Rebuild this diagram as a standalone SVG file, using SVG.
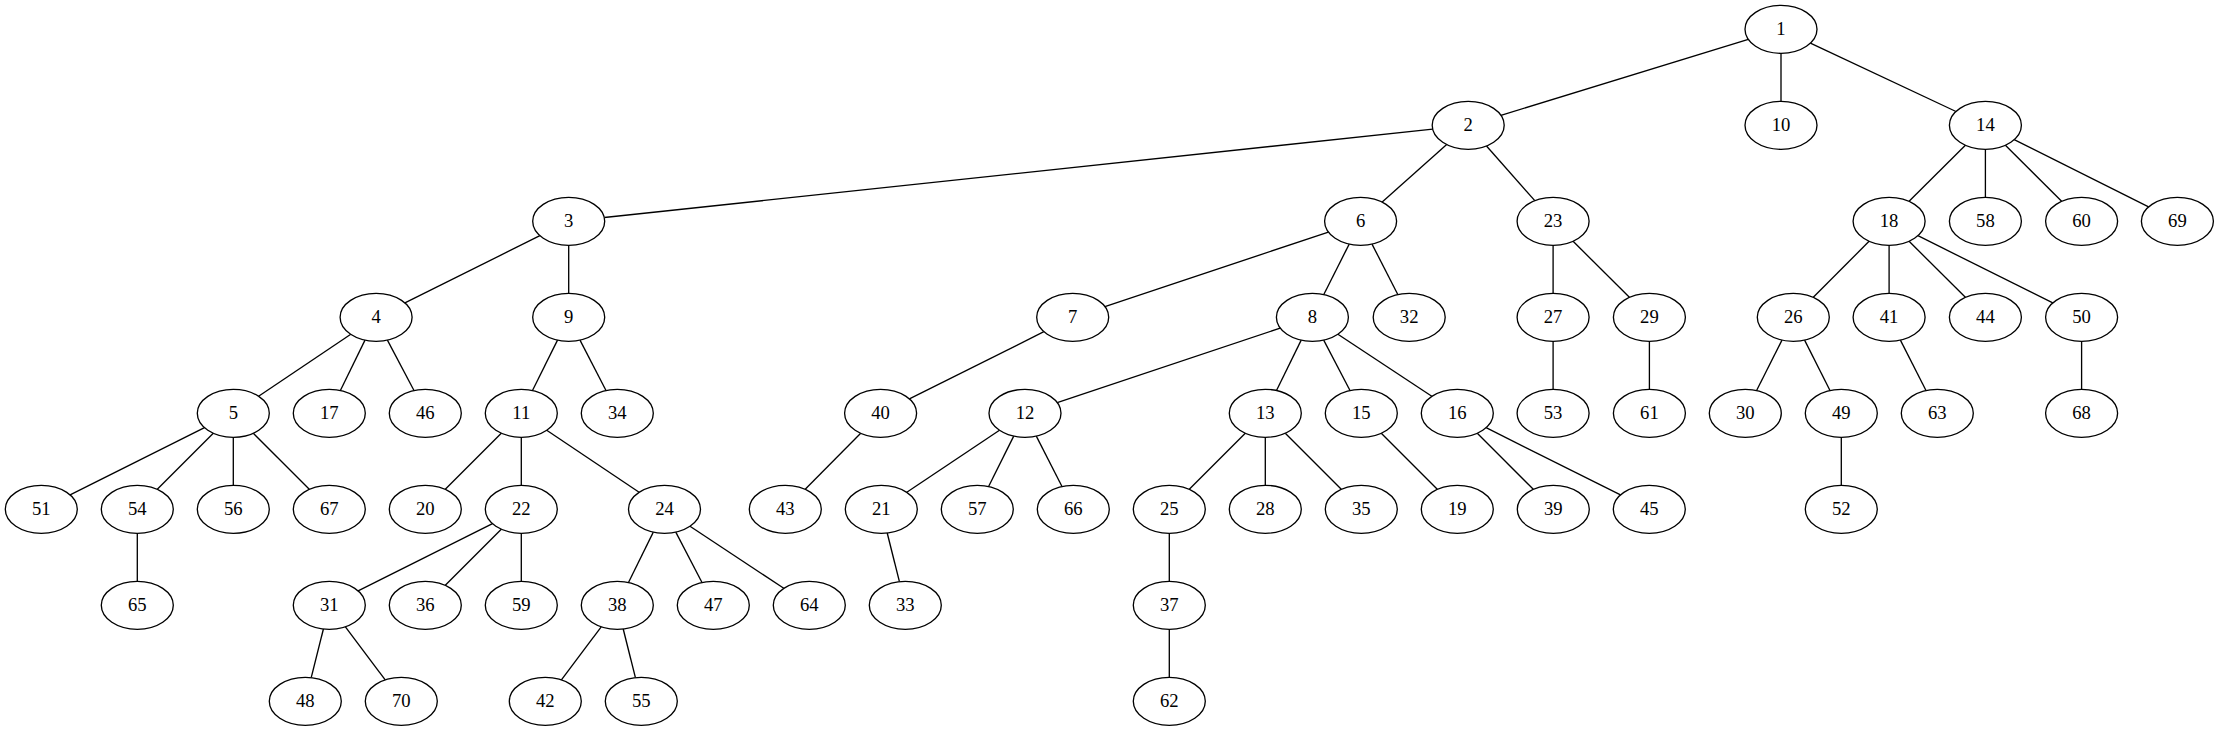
<svg xmlns="http://www.w3.org/2000/svg" width="2219" height="731" viewBox="0 0 2219 731">
<style>
.n ellipse{fill:#fff;stroke:#000;stroke-width:1.33}
.n text{font-family:"Liberation Serif","Times New Roman",serif;font-size:18.67px;text-anchor:middle;fill:#000}
.e line{stroke:#000;stroke-width:1.33;fill:none}
</style>
<rect width="2219" height="731" fill="#fff"/>
<g id="edges" class="e">
<line x1="1748.3" y1="39.3" x2="1500.9" y2="115.3"/>
<line x1="1781" y1="53.3" x2="1781" y2="101.3"/>
<line x1="1810.4" y1="43.1" x2="1956" y2="111.5"/>
<line x1="1432.7" y1="129.1" x2="604.3" y2="217.5"/>
<line x1="1446.7" y1="144.5" x2="1382.2" y2="202.1"/>
<line x1="1486.5" y1="146" x2="1534.8" y2="200.6"/>
<line x1="1965.4" y1="145.3" x2="1909.1" y2="201.3"/>
<line x1="1985.4" y1="149.3" x2="1985.4" y2="197.3"/>
<line x1="2005.4" y1="145.3" x2="2061.6" y2="201.3"/>
<line x1="2014.2" y1="139.7" x2="2148.6" y2="206.9"/>
<line x1="539.9" y1="235.7" x2="404.9" y2="302.9"/>
<line x1="568.7" y1="245.3" x2="568.7" y2="293.3"/>
<line x1="1328.4" y1="232.1" x2="1104.9" y2="306.6"/>
<line x1="1349.2" y1="244.1" x2="1323.8" y2="294.5"/>
<line x1="1372" y1="244.1" x2="1397.8" y2="294.5"/>
<line x1="1553.1" y1="245.3" x2="1553.1" y2="293.3"/>
<line x1="1573.1" y1="241.3" x2="1629.4" y2="297.3"/>
<line x1="1869.1" y1="241.3" x2="1813.3" y2="297.3"/>
<line x1="1889.1" y1="245.3" x2="1889.1" y2="293.3"/>
<line x1="1909.1" y1="241.3" x2="1965.4" y2="297.3"/>
<line x1="1917.9" y1="235.7" x2="2052.8" y2="302.9"/>
<line x1="350.8" y1="334.3" x2="258.6" y2="396.3"/>
<line x1="365" y1="340.1" x2="340.4" y2="390.5"/>
<line x1="387.4" y1="340.1" x2="414" y2="390.5"/>
<line x1="557.5" y1="340.1" x2="532.5" y2="390.5"/>
<line x1="580" y1="340.1" x2="606" y2="390.5"/>
<line x1="1043.9" y1="331.7" x2="909.4" y2="398.9"/>
<line x1="1280.2" y1="328.1" x2="1057.2" y2="402.6"/>
<line x1="1301.2" y1="340.1" x2="1276.5" y2="390.5"/>
<line x1="1323.7" y1="340.1" x2="1350" y2="390.5"/>
<line x1="1337.9" y1="334.3" x2="1431.8" y2="396.3"/>
<line x1="1553.1" y1="341.3" x2="1553.1" y2="389.3"/>
<line x1="1649.4" y1="341.3" x2="1649.4" y2="389.3"/>
<line x1="1782" y1="340.1" x2="1756.6" y2="390.5"/>
<line x1="1804.6" y1="340.1" x2="1830" y2="390.5"/>
<line x1="1900.4" y1="340.1" x2="1926" y2="390.5"/>
<line x1="2081.6" y1="341.3" x2="2081.6" y2="389.3"/>
<line x1="204.5" y1="427.7" x2="70.1" y2="494.9"/>
<line x1="213.3" y1="433.3" x2="157.3" y2="489.3"/>
<line x1="233.3" y1="437.3" x2="233.3" y2="485.3"/>
<line x1="253.3" y1="433.3" x2="309.3" y2="489.3"/>
<line x1="501.3" y1="433.3" x2="445.3" y2="489.3"/>
<line x1="521.3" y1="437.3" x2="521.3" y2="485.3"/>
<line x1="546.7" y1="430.3" x2="639.1" y2="492.3"/>
<line x1="860.7" y1="433.3" x2="805.2" y2="489.3"/>
<line x1="999.5" y1="430.3" x2="906.8" y2="492.3"/>
<line x1="1013.7" y1="436.1" x2="988.6" y2="486.5"/>
<line x1="1036.3" y1="436.1" x2="1062" y2="486.5"/>
<line x1="1245.3" y1="433.3" x2="1189.3" y2="489.3"/>
<line x1="1265.3" y1="437.3" x2="1265.3" y2="485.3"/>
<line x1="1285.3" y1="433.3" x2="1341.3" y2="489.3"/>
<line x1="1381.3" y1="433.3" x2="1437.3" y2="489.3"/>
<line x1="1477.3" y1="433.3" x2="1533.3" y2="489.3"/>
<line x1="1486.1" y1="427.7" x2="1620.5" y2="494.9"/>
<line x1="1841.3" y1="437.3" x2="1841.3" y2="485.3"/>
<line x1="137.3" y1="533.3" x2="137.3" y2="581.3"/>
<line x1="492.5" y1="523.7" x2="358.1" y2="590.9"/>
<line x1="501.3" y1="529.3" x2="445.3" y2="585.3"/>
<line x1="521.3" y1="533.3" x2="521.3" y2="581.3"/>
<line x1="653.3" y1="532.1" x2="628.5" y2="582.5"/>
<line x1="675.8" y1="532.1" x2="702" y2="582.5"/>
<line x1="690" y1="526.3" x2="783.8" y2="588.3"/>
<line x1="887.2" y1="533" x2="899.4" y2="581.6"/>
<line x1="1169.3" y1="533.3" x2="1169.3" y2="581.3"/>
<line x1="323.4" y1="629" x2="311.2" y2="677.6"/>
<line x1="345.4" y1="626.8" x2="385.2" y2="679.8"/>
<line x1="601.2" y1="626.8" x2="561.4" y2="679.8"/>
<line x1="623.2" y1="629" x2="635.4" y2="677.6"/>
<line x1="1169.3" y1="629.3" x2="1169.3" y2="677.3"/>
</g>
<g class="n">
<g id="node1"><ellipse cx="1781" cy="29.3" rx="36" ry="24"/><text x="1781" y="35">1</text></g>
<g id="node2"><ellipse cx="1468.2" cy="125.3" rx="36" ry="24"/><text x="1468.2" y="131">2</text></g>
<g id="node10"><ellipse cx="1781" cy="125.3" rx="36" ry="24"/><text x="1781" y="131">10</text></g>
<g id="node14"><ellipse cx="1985.4" cy="125.3" rx="36" ry="24"/><text x="1985.4" y="131">14</text></g>
<g id="node3"><ellipse cx="568.7" cy="221.3" rx="36" ry="24"/><text x="568.7" y="227">3</text></g>
<g id="node6"><ellipse cx="1360.6" cy="221.3" rx="36" ry="24"/><text x="1360.6" y="227">6</text></g>
<g id="node23"><ellipse cx="1553.1" cy="221.3" rx="36" ry="24"/><text x="1553.1" y="227">23</text></g>
<g id="node18"><ellipse cx="1889.1" cy="221.3" rx="36" ry="24"/><text x="1889.1" y="227">18</text></g>
<g id="node58"><ellipse cx="1985.4" cy="221.3" rx="36" ry="24"/><text x="1985.4" y="227">58</text></g>
<g id="node60"><ellipse cx="2081.6" cy="221.3" rx="36" ry="24"/><text x="2081.6" y="227">60</text></g>
<g id="node69"><ellipse cx="2177.4" cy="221.3" rx="36" ry="24"/><text x="2177.4" y="227">69</text></g>
<g id="node4"><ellipse cx="376.1" cy="317.3" rx="36" ry="24"/><text x="376.1" y="323">4</text></g>
<g id="node9"><ellipse cx="568.7" cy="317.3" rx="36" ry="24"/><text x="568.7" y="323">9</text></g>
<g id="node7"><ellipse cx="1072.7" cy="317.3" rx="36" ry="24"/><text x="1072.7" y="323">7</text></g>
<g id="node8"><ellipse cx="1312.4" cy="317.3" rx="36" ry="24"/><text x="1312.4" y="323">8</text></g>
<g id="node32"><ellipse cx="1409.2" cy="317.3" rx="36" ry="24"/><text x="1409.2" y="323">32</text></g>
<g id="node27"><ellipse cx="1553.1" cy="317.3" rx="36" ry="24"/><text x="1553.1" y="323">27</text></g>
<g id="node29"><ellipse cx="1649.4" cy="317.3" rx="36" ry="24"/><text x="1649.4" y="323">29</text></g>
<g id="node26"><ellipse cx="1793.3" cy="317.3" rx="36" ry="24"/><text x="1793.3" y="323">26</text></g>
<g id="node41"><ellipse cx="1889.1" cy="317.3" rx="36" ry="24"/><text x="1889.1" y="323">41</text></g>
<g id="node44"><ellipse cx="1985.4" cy="317.3" rx="36" ry="24"/><text x="1985.4" y="323">44</text></g>
<g id="node50"><ellipse cx="2081.6" cy="317.3" rx="36" ry="24"/><text x="2081.6" y="323">50</text></g>
<g id="node5"><ellipse cx="233.3" cy="413.3" rx="36" ry="24"/><text x="233.3" y="419">5</text></g>
<g id="node17"><ellipse cx="329.3" cy="413.3" rx="36" ry="24"/><text x="329.3" y="419">17</text></g>
<g id="node46"><ellipse cx="425.3" cy="413.3" rx="36" ry="24"/><text x="425.3" y="419">46</text></g>
<g id="node11"><ellipse cx="521.3" cy="413.3" rx="36" ry="24"/><text x="521.3" y="419">11</text></g>
<g id="node34"><ellipse cx="617.3" cy="413.3" rx="36" ry="24"/><text x="617.3" y="419">34</text></g>
<g id="node40"><ellipse cx="880.6" cy="413.3" rx="36" ry="24"/><text x="880.6" y="419">40</text></g>
<g id="node12"><ellipse cx="1025" cy="413.3" rx="36" ry="24"/><text x="1025" y="419">12</text></g>
<g id="node13"><ellipse cx="1265.3" cy="413.3" rx="36" ry="24"/><text x="1265.3" y="419">13</text></g>
<g id="node15"><ellipse cx="1361.3" cy="413.3" rx="36" ry="24"/><text x="1361.3" y="419">15</text></g>
<g id="node16"><ellipse cx="1457.3" cy="413.3" rx="36" ry="24"/><text x="1457.3" y="419">16</text></g>
<g id="node53"><ellipse cx="1553.1" cy="413.3" rx="36" ry="24"/><text x="1553.1" y="419">53</text></g>
<g id="node61"><ellipse cx="1649.4" cy="413.3" rx="36" ry="24"/><text x="1649.4" y="419">61</text></g>
<g id="node30"><ellipse cx="1745.3" cy="413.3" rx="36" ry="24"/><text x="1745.3" y="419">30</text></g>
<g id="node49"><ellipse cx="1841.3" cy="413.3" rx="36" ry="24"/><text x="1841.3" y="419">49</text></g>
<g id="node63"><ellipse cx="1937.3" cy="413.3" rx="36" ry="24"/><text x="1937.3" y="419">63</text></g>
<g id="node68"><ellipse cx="2081.6" cy="413.3" rx="36" ry="24"/><text x="2081.6" y="419">68</text></g>
<g id="node51"><ellipse cx="41.3" cy="509.3" rx="36" ry="24"/><text x="41.3" y="515">51</text></g>
<g id="node54"><ellipse cx="137.3" cy="509.3" rx="36" ry="24"/><text x="137.3" y="515">54</text></g>
<g id="node56"><ellipse cx="233.3" cy="509.3" rx="36" ry="24"/><text x="233.3" y="515">56</text></g>
<g id="node67"><ellipse cx="329.3" cy="509.3" rx="36" ry="24"/><text x="329.3" y="515">67</text></g>
<g id="node20"><ellipse cx="425.3" cy="509.3" rx="36" ry="24"/><text x="425.3" y="515">20</text></g>
<g id="node22"><ellipse cx="521.3" cy="509.3" rx="36" ry="24"/><text x="521.3" y="515">22</text></g>
<g id="node24"><ellipse cx="664.5" cy="509.3" rx="36" ry="24"/><text x="664.5" y="515">24</text></g>
<g id="node43"><ellipse cx="785.3" cy="509.3" rx="36" ry="24"/><text x="785.3" y="515">43</text></g>
<g id="node21"><ellipse cx="881.3" cy="509.3" rx="36" ry="24"/><text x="881.3" y="515">21</text></g>
<g id="node57"><ellipse cx="977.3" cy="509.3" rx="36" ry="24"/><text x="977.3" y="515">57</text></g>
<g id="node66"><ellipse cx="1073.3" cy="509.3" rx="36" ry="24"/><text x="1073.3" y="515">66</text></g>
<g id="node25"><ellipse cx="1169.3" cy="509.3" rx="36" ry="24"/><text x="1169.3" y="515">25</text></g>
<g id="node28"><ellipse cx="1265.3" cy="509.3" rx="36" ry="24"/><text x="1265.3" y="515">28</text></g>
<g id="node35"><ellipse cx="1361.3" cy="509.3" rx="36" ry="24"/><text x="1361.3" y="515">35</text></g>
<g id="node19"><ellipse cx="1457.3" cy="509.3" rx="36" ry="24"/><text x="1457.3" y="515">19</text></g>
<g id="node39"><ellipse cx="1553.3" cy="509.3" rx="36" ry="24"/><text x="1553.3" y="515">39</text></g>
<g id="node45"><ellipse cx="1649.3" cy="509.3" rx="36" ry="24"/><text x="1649.3" y="515">45</text></g>
<g id="node52"><ellipse cx="1841.3" cy="509.3" rx="36" ry="24"/><text x="1841.3" y="515">52</text></g>
<g id="node65"><ellipse cx="137.3" cy="605.3" rx="36" ry="24"/><text x="137.3" y="611">65</text></g>
<g id="node31"><ellipse cx="329.3" cy="605.3" rx="36" ry="24"/><text x="329.3" y="611">31</text></g>
<g id="node36"><ellipse cx="425.3" cy="605.3" rx="36" ry="24"/><text x="425.3" y="611">36</text></g>
<g id="node59"><ellipse cx="521.3" cy="605.3" rx="36" ry="24"/><text x="521.3" y="611">59</text></g>
<g id="node38"><ellipse cx="617.3" cy="605.3" rx="36" ry="24"/><text x="617.3" y="611">38</text></g>
<g id="node47"><ellipse cx="713.3" cy="605.3" rx="36" ry="24"/><text x="713.3" y="611">47</text></g>
<g id="node64"><ellipse cx="809.3" cy="605.3" rx="36" ry="24"/><text x="809.3" y="611">64</text></g>
<g id="node33"><ellipse cx="905.3" cy="605.3" rx="36" ry="24"/><text x="905.3" y="611">33</text></g>
<g id="node37"><ellipse cx="1169.3" cy="605.3" rx="36" ry="24"/><text x="1169.3" y="611">37</text></g>
<g id="node48"><ellipse cx="305.3" cy="701.3" rx="36" ry="24"/><text x="305.3" y="707">48</text></g>
<g id="node70"><ellipse cx="401.3" cy="701.3" rx="36" ry="24"/><text x="401.3" y="707">70</text></g>
<g id="node42"><ellipse cx="545.3" cy="701.3" rx="36" ry="24"/><text x="545.3" y="707">42</text></g>
<g id="node55"><ellipse cx="641.3" cy="701.3" rx="36" ry="24"/><text x="641.3" y="707">55</text></g>
<g id="node62"><ellipse cx="1169.3" cy="701.3" rx="36" ry="24"/><text x="1169.3" y="707">62</text></g>
</g>
</svg>
